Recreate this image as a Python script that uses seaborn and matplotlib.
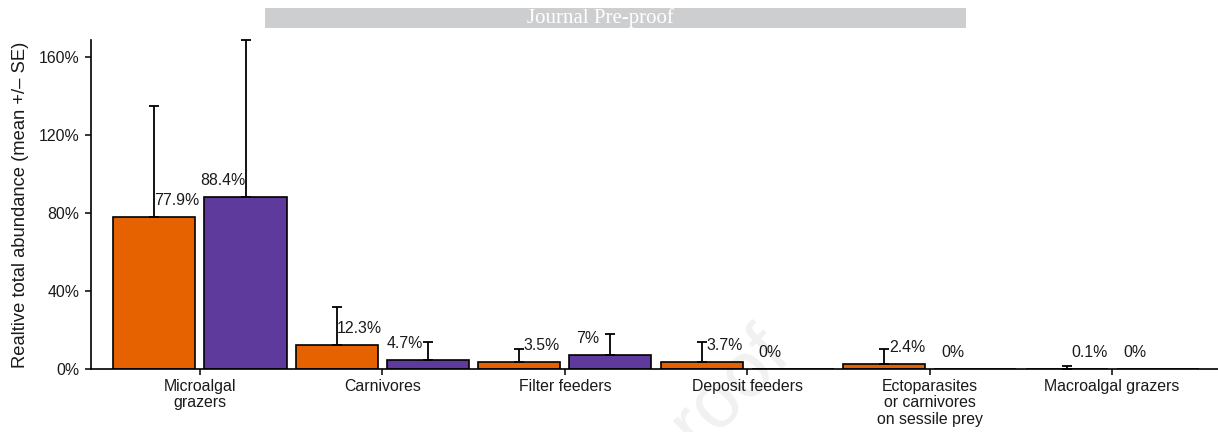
import numpy as np
import pandas as pd
import matplotlib
matplotlib.use("Agg")
import matplotlib.pyplot as plt
import seaborn as sns

# Feeding guilds on the x axis
categories = [
    "Microalgal\ngrazers",
    "Carnivores",
    "Filter feeders",
    "Deposit feeders",
    "Ectoparasites\nor carnivores\non sessile prey",
    "Macroalgal grazers",
]
groups = ["Group A", "Group B"]

# Mean relative total abundance (%) and standard error per group
mean_a = [77.9, 12.3, 3.5, 3.7, 2.4, 0.1]
se_a = [57.0, 19.5, 6.8, 10.0, 7.7, 1.4]
mean_b = [88.4, 4.7, 7.0, 0.0, 0.0, 0.0]
se_b = [80.3, 9.3, 10.9, 0.0, 0.0, 0.0]

yticks = [0, 40, 80, 120, 160]
ytick_labels = ["0%", "40%", "80%", "120%", "160%"]

colors = ["#E66100", "#5D3A9B"]

df = pd.DataFrame({
    "guild": categories * 2,
    "group": [groups[0]] * len(categories) + [groups[1]] * len(categories),
    "mean": mean_a + mean_b,
})

sns.set_theme(style="ticks")
plt.rcParams["font.family"] = ["Liberation Sans", "DejaVu Sans"]

W, H = 1218, 432
fig = plt.figure(figsize=(W / 100, H / 100), dpi=100)
ax = fig.add_axes([91 / W, 1 - 369 / H, (W - 91) / W, (369 - 40) / H])
ax.set_facecolor("none")

# Faint diagonal watermark behind the plot, clipped by the figure edge
wm = fig.text(805 / W, 1 - 318 / H, "Journal Pre-proof", rotation=45,
              ha="right", va="top", fontsize=56, color="#f1f1f1",
              family="Liberation Sans", zorder=-5)
wm.set_clip_on(True)

sns.barplot(data=df, x="guild", y="mean", hue="group", order=categories,
            hue_order=groups, palette=colors, width=1.0, gap=0.1,
            edgecolor="black", linewidth=1.2, errorbar=None, legend=False,
            saturation=1, ax=ax)

x = np.arange(len(categories))
offsets = [-0.25, 0.25]
label_offsets = [-0.125, 0.125]
for k, (means, ses) in enumerate([(mean_a, se_a), (mean_b, se_b)]):
    xs = x + offsets[k]
    means = np.array(means)
    ses = np.array(ses)
    keep = ses > 0
    eb = ax.errorbar(xs[keep], means[keep],
                     yerr=[np.zeros(keep.sum()), ses[keep]],
                     fmt="none", ecolor="black", elinewidth=1.3,
                     capsize=3.5, capthick=1.3, zorder=4)
    for art in eb.lines[1] + eb.lines[2]:
        art.set_clip_on(False)
    for xi, v in zip(x + label_offsets[k], means):
        ax.annotate(f"{v:g}%", xy=(xi, v), xytext=(0, 12),
                    textcoords="offset pixels", ha="center", va="baseline",
                    fontsize=11.4, color="#1a1a1a", zorder=5)

ax.set_xlim(-0.597, 5.58)
ax.set_ylim(0, 168.7)
ax.set_yticks(yticks)
ax.set_yticklabels(ytick_labels)
ax.set_xlabel("")
ax.set_ylabel("Realtive total abundance (mean +/– SE)", fontsize=13.2,
              labelpad=7, color="#1a1a1a")
ax.tick_params(axis="both", labelsize=11.4, colors="black",
               labelcolor="#1a1a1a", width=1.1)
ax.tick_params(axis="y", length=4.5, pad=4)
ax.tick_params(axis="x", length=4, pad=3)
for lbl in ax.get_xticklabels():
    lbl.set_linespacing(1.12)
sns.despine(ax=ax)
for side in ("left", "bottom"):
    ax.spines[side].set_linewidth(1.2)
    ax.spines[side].set_color("black")

# Grey banner across the top
fig.patches.append(plt.Rectangle((265 / W, 1 - 28 / H), (966 - 265) / W, 20 / H,
                                 transform=fig.transFigure, facecolor="#cdcecf",
                                 edgecolor="none", zorder=1))
fig.text(600 / W, 1 - 18 / H, "Journal Pre-proof", ha="center", va="center",
         color="white", fontsize=15, family="Liberation Serif", zorder=2)

fig.savefig("out.png", dpi=100)
